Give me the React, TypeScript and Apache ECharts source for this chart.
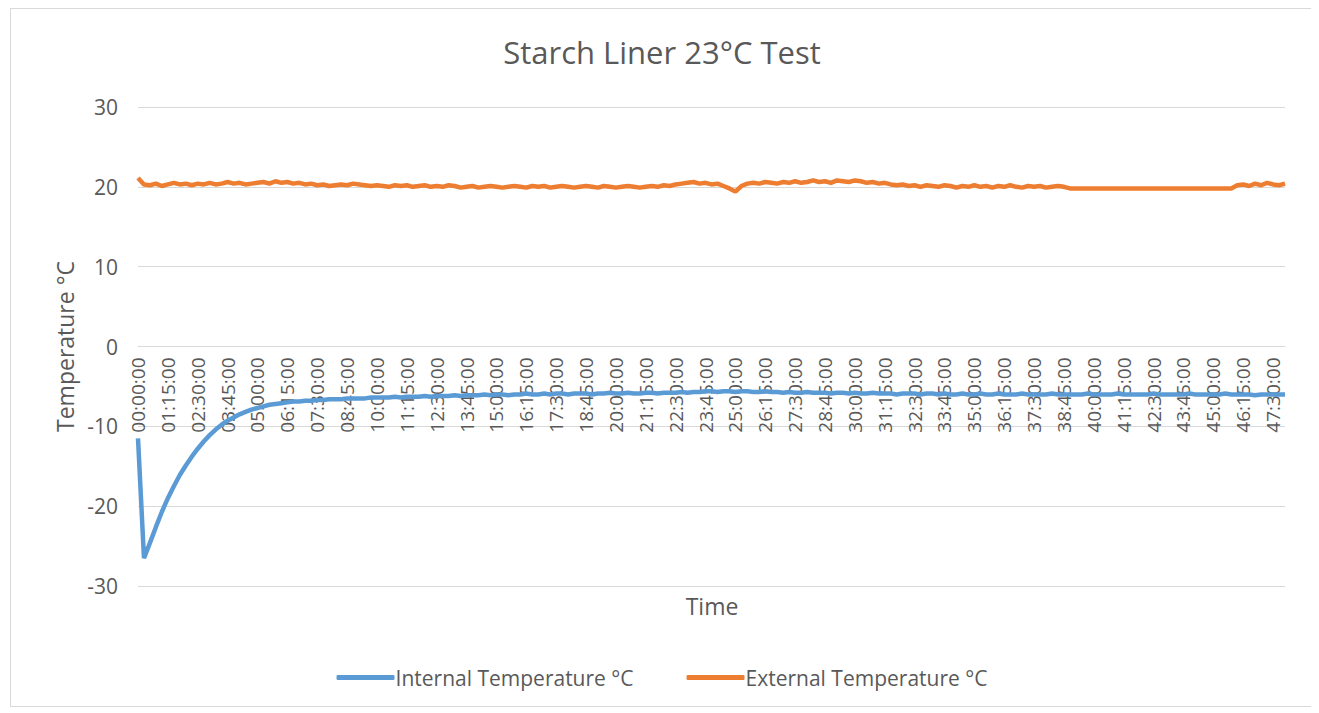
import React, { useEffect, useRef } from "react";
import * as echarts from "echarts";

// Time categories every 15 minutes, 0:00 to 48:00
const STEP_MIN = 15;
const POINTS = 193;
const timeLabels: string[] = [];
for (let i = 0; i < POINTS; i++) {
  const m = i * STEP_MIN;
  const hh = String(Math.floor(m / 60)).padStart(2, "0");
  const mm = String(m % 60).padStart(2, "0");
  timeLabels.push(`${hh}:${mm}:00`);
}

const internalTemp: number[] = [
  -11.5, -26.5, -24.6, -22.6, -20.7, -19.0, -17.5, -16.1, -14.9, -13.8,
  -12.8, -11.9, -11.1, -10.4, -9.8, -9.3, -8.9, -8.5, -8.2, -7.9,
  -7.7, -7.5, -7.3, -7.2, -7.1, -7.0, -6.9, -6.9, -6.8, -6.8,
  -6.7, -6.7, -6.6, -6.6, -6.6, -6.5, -6.5, -6.5, -6.5, -6.4,
  -6.4, -6.4, -6.4, -6.3, -6.4, -6.3, -6.3, -6.3, -6.2, -6.3,
  -6.2, -6.2, -6.2, -6.1, -6.2, -6.1, -6.1, -6.1, -6.0, -6.1,
  -6.0, -6.0, -6.1, -6.0, -6.0, -5.9, -6.0, -6.0, -5.9, -6.0,
  -5.9, -5.9, -6.0, -5.9, -5.9, -5.9, -6.0, -5.9, -5.9, -5.8,
  -5.9, -5.9, -5.8, -5.9, -5.9, -5.8, -5.8, -5.9, -5.8, -5.8,
  -5.8, -5.7, -5.8, -5.7, -5.7, -5.6, -5.6, -5.7, -5.6, -5.6,
  -5.7, -5.6, -5.6, -5.7, -5.7, -5.6, -5.7, -5.7, -5.8, -5.7,
  -5.8, -5.8, -5.7, -5.8, -5.8, -5.8, -5.9, -5.8, -5.8, -5.9,
  -5.8, -5.9, -5.9, -5.8, -5.9, -5.9, -5.9, -6.0, -5.9, -5.9,
  -5.9, -6.0, -5.9, -5.9, -6.0, -5.9, -6.0, -6.0, -5.9, -6.0,
  -6.0, -5.9, -6.0, -6.0, -5.9, -6.0, -6.0, -6.0, -5.9, -6.0,
  -6.0, -6.0, -6.0, -5.9, -6.0, -6.0, -6.0, -6.0, -6.0, -5.9,
  -6.0, -6.0, -6.0, -6.0, -5.9, -6.0, -6.0, -6.0, -6.0, -6.0,
  -5.9, -6.0, -6.0, -6.0, -6.0, -6.0, -5.9, -6.0, -6.0, -6.0,
  -6.0, -6.0, -5.9, -6.0, -6.0, -6.0, -6.0, -6.1, -6.0, -6.0,
  -6.0, -6.0, -6.0,
];

const externalTemp: number[] = [
  21.1, 20.3, 20.2, 20.4, 20.1, 20.3, 20.5, 20.3, 20.4, 20.2,
  20.4, 20.3, 20.5, 20.3, 20.4, 20.6, 20.4, 20.5, 20.3, 20.4,
  20.5, 20.6, 20.4, 20.7, 20.5, 20.6, 20.4, 20.5, 20.3, 20.4,
  20.2, 20.3, 20.1, 20.2, 20.3, 20.2, 20.4, 20.3, 20.2, 20.1,
  20.2, 20.1, 20.0, 20.2, 20.1, 20.2, 20.0, 20.1, 20.2, 20.0,
  20.1, 20.0, 20.2, 20.1, 19.9, 20.0, 20.1, 19.9, 20.0, 20.1,
  20.0, 19.9, 20.0, 20.1, 20.0, 19.9, 20.1, 20.0, 20.1, 19.9,
  20.0, 20.1, 20.0, 19.9, 20.0, 20.1, 20.0, 19.9, 20.1, 20.0,
  19.9, 20.0, 20.1, 20.0, 19.9, 20.0, 20.1, 20.0, 20.2, 20.1,
  20.3, 20.4, 20.5, 20.6, 20.4, 20.5, 20.3, 20.4, 20.1, 19.8,
  19.4, 20.1, 20.4, 20.5, 20.4, 20.6, 20.5, 20.4, 20.6, 20.5,
  20.7, 20.5, 20.6, 20.8, 20.6, 20.7, 20.5, 20.8, 20.7, 20.6,
  20.8, 20.7, 20.5, 20.6, 20.4, 20.5, 20.3, 20.2, 20.3, 20.1,
  20.2, 20.0, 20.2, 20.1, 20.0, 20.2, 20.1, 19.9, 20.1, 20.0,
  20.2, 20.0, 20.1, 19.9, 20.1, 20.0, 20.2, 20.0, 19.9, 20.1,
  20.0, 20.1, 19.9, 20.0, 20.1, 20.0, 19.8, 19.8, 19.8, 19.8,
  19.8, 19.8, 19.8, 19.8, 19.8, 19.8, 19.8, 19.8, 19.8, 19.8,
  19.8, 19.8, 19.8, 19.8, 19.8, 19.8, 19.8, 19.8, 19.8, 19.8,
  19.8, 19.8, 19.8, 19.8, 20.2, 20.3, 20.1, 20.4, 20.2, 20.5,
  20.3, 20.2, 20.4,
];

const yTicks = { min: -30, max: 30, interval: 10 };
const seriesNames = ["Internal Temperature °C", "External Temperature °C"];
const titleText = "Starch Liner 23°C Test";

const FONT = "'Open Sans', 'Noto Sans', sans-serif";
const GRAY = "#595959";
const GRID = "#d9d9d9";

// plot area geometry (pixels inside the chart div)
const PLOT_TOP = 98;
const PLOT_BOTTOM = 120;
const CHART_H = 697;
const plotHeight = CHART_H - PLOT_TOP - PLOT_BOTTOM;
// the category axis crosses the value axis at 0 (as in the original)
const zeroOffset = -plotHeight * ((0 - yTicks.min) / (yTicks.max - yTicks.min));

export default function App() {
  const ref = useRef<HTMLDivElement>(null);

  useEffect(() => {
    if (!ref.current) return;
    const chart = echarts.init(ref.current, undefined, { renderer: "svg" });
    chart.setOption({
      animation: false,
      backgroundColor: "#ffffff",
      textStyle: { fontFamily: FONT },
      title: {
        text: titleText,
        left: "center",
        top: 22,
        textStyle: { fontFamily: FONT, fontSize: 31, fontWeight: "normal", color: GRAY },
      },
      grid: {
        left: 127,
        right: 28,
        top: PLOT_TOP,
        bottom: PLOT_BOTTOM,
        containLabel: false,
        outerBoundsMode: "none",
      },
      legend: {
        data: seriesNames,
        left: "center",
        top: 653,
        icon: "roundRect",
        itemWidth: 58,
        itemHeight: 5,
        itemGap: 53,
        textStyle: { fontFamily: FONT, fontSize: 21, color: GRAY, padding: [0, 0, 0, -4] },
      },
      xAxis: {
        type: "category",
        data: timeLabels,
        boundaryGap: false,
        position: "bottom",
        offset: zeroOffset,
        axisLine: { onZero: false, lineStyle: { color: GRID, width: 1 } },
        axisTick: { show: false },
        splitLine: { show: false },
        axisLabel: {
          interval: 4,
          rotate: 90,
          margin: 11,
          color: GRAY,
          fontFamily: FONT,
          fontSize: 19,
        },
      },
      yAxis: {
        type: "value",
        min: yTicks.min,
        max: yTicks.max,
        interval: yTicks.interval,
        name: "Temperature °C",
        nameLocation: "middle",
        nameGap: 60,
        nameTextStyle: { fontFamily: FONT, fontSize: 23, color: GRAY },
        axisLine: { show: false },
        axisTick: { show: false },
        splitLine: { lineStyle: { color: GRID, width: 1 } },
        axisLabel: { color: GRAY, fontFamily: FONT, fontSize: 21, margin: 20 },
      },
      graphic: [
        {
          type: "text",
          x: 701,
          y: 597,
          style: {
            text: "Time",
            fontFamily: FONT,
            fontSize: 23,
            fill: GRAY,
            align: "center",
            verticalAlign: "middle",
          },
        },
      ],
      series: [
        {
          name: seriesNames[0],
          type: "line",
          data: internalTemp,
          symbol: "none",
          showSymbol: false,
          lineStyle: { color: "#5b9bd5", width: 4.5 },
          itemStyle: { color: "#5b9bd5" },
        },
        {
          name: seriesNames[1],
          type: "line",
          data: externalTemp,
          symbol: "none",
          showSymbol: false,
          lineStyle: { color: "#ed7d31", width: 4.5 },
          itemStyle: { color: "#ed7d31" },
        },
      ],
    });
    return () => chart.dispose();
  }, []);

  return (
    <div
      style={{
        marginLeft: 2,
        width: 1304,
        height: 699,
        border: "1px solid #d9d9d9",
        boxSizing: "border-box",
        background: "#fff",
      }}
    >
      <div ref={ref} style={{ width: 1302, height: CHART_H }} />
    </div>
  );
}
